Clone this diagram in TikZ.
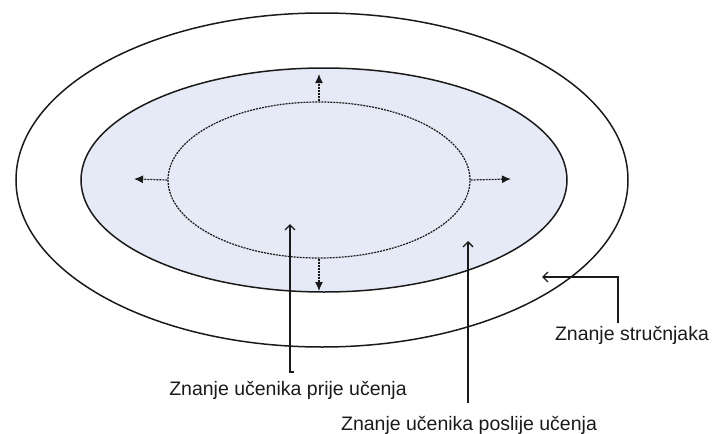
\documentclass[tikz,border=0pt]{standalone}
\usepackage{fontspec}
\setmainfont{Liberation Sans}
\usetikzlibrary{shapes.geometric,arrows.meta}
\definecolor{ringfill}{HTML}{E6EAF6}
\definecolor{ink}{HTML}{1A1A1A}
\tikzset{
  ring/.style={ellipse, draw=ink, line width=1.5pt, inner sep=0pt},
  dashring/.style={ellipse, draw=ink, line width=1.2pt, dash pattern=on 2pt off 1pt, inner sep=0pt},
  growarrow/.style={draw=ink, line width=1.2pt, dash pattern=on 2pt off 1pt,
               -{Latex[length=9pt,width=8pt]}},
  pointer/.style={draw=ink, line width=1.3pt, -{Straight Barb[length=5pt,width=10pt]}},
  caption/.style={font=\fontsize{19.5}{22}\selectfont, text=ink, inner sep=0pt}
}
\begin{document}
\begin{tikzpicture}[x=1pt,y=-1pt]
  \useasboundingbox (0,0) rectangle (713,434);

  % expert knowledge, student knowledge after and before learning
  \node[ring, minimum width=612pt, minimum height=334pt] (expert) at (322,180) {};
  \node[ring, fill=ringfill, minimum width=486pt, minimum height=224pt] (after) at (324,180) {};
  \node[dashring, minimum width=302pt, minimum height=156pt] (before) at (319,180) {};

  % growth of knowledge
  \coordinate (gN) at (319,74);
  \coordinate (gW) at (134,179);
  \coordinate (gE) at (511,179);
  \coordinate (gS) at (319,291);
  \draw[growarrow] (before.north) -- (gN);
  \draw[growarrow] (before.west) -- (gW);
  \draw[growarrow] (before.east) -- (gE);
  \draw[growarrow] (before.south) -- (gS);

  % labels
  \node[caption] (lbefore) at (288,390) {Znanje učenika prije učenja};
  \node[caption] (lafter) at (469,425) {Znanje učenika poslije učenja};
  \node[caption] (lexpert) at (632,335) {Znanje stručnjaka};

  % label pointers
  \coordinate (pb0) at (294,372);
  \coordinate (pb1) at (290,372);
  \coordinate (pb2) at (290,224);
  \draw[pointer] (pb0) -- (pb1) -- (pb2);

  \coordinate (pa0) at (468,403);
  \coordinate (pa1) at (468,241);
  \draw[pointer] (pa0) -- (pa1);

  \coordinate (pe0) at (618,323);
  \coordinate (pe1) at (618,277);
  \coordinate (pe2) at (542,277);
  \draw[pointer] (pe0) -- (pe1) -- (pe2);
\end{tikzpicture}
\end{document}
